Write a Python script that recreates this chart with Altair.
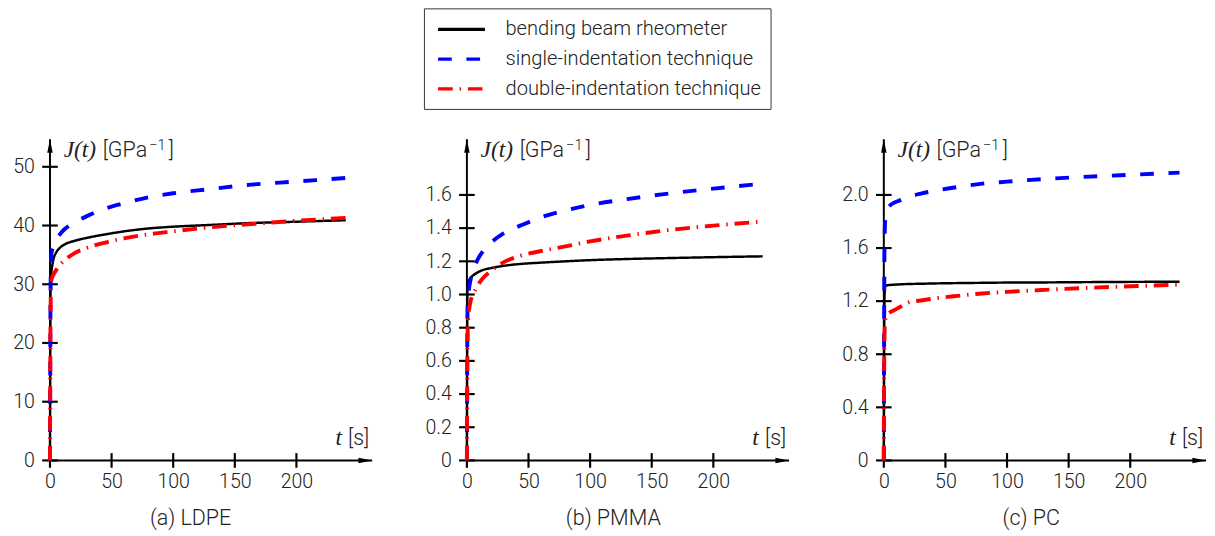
import altair as alt
import pandas as pd

# ---------------- data ----------------
T = [0, 0.5, 1, 2, 3, 5, 8, 12, 20, 30, 45, 60, 80, 100, 130, 160, 200, 240]
SERIES = ["bending beam rheometer", "single-indentation technique", "double-indentation technique"]
COLORS = ["#000000", "#0000ff", "#ff0000"]
DASHES = [[1, 0], [14, 15], [15, 7, 1.5, 7]]
WIDTHS = [2.5, 4, 4]

LDPE_BBR = [0, 30.0, 31.8, 33.4, 34.4, 35.4, 36.2, 36.8, 37.4, 37.9, 38.5, 39.0, 39.5, 39.8, 40.1, 40.4, 40.65, 40.9]
LDPE_SIT = [0, 30.0, 35.0, 36.0, 36.6, 37.6, 38.5, 39.4, 40.5, 41.6, 42.9, 43.8, 44.8, 45.5, 46.2, 46.9, 47.5, 48.1]
LDPE_DIT = [0, 26.0, 30.5, 31.3, 31.7, 32.4, 33.3, 34.1, 35.3, 36.2, 37.1, 37.8, 38.5, 39.0, 39.7, 40.2, 40.8, 41.3]

PMMA_BBR = [0, 1.05, 1.075, 1.09, 1.10, 1.115, 1.13, 1.145, 1.16, 1.173, 1.185, 1.192, 1.20, 1.207, 1.214, 1.219, 1.225, 1.23]
PMMA_SIT = [0, 0.90, 0.98, 1.05, 1.09, 1.14, 1.20, 1.25, 1.315, 1.37, 1.42, 1.465, 1.507, 1.54, 1.575, 1.605, 1.638, 1.668]
PMMA_DIT = [0, 0.72, 0.85, 0.92, 0.96, 1.00, 1.045, 1.09, 1.145, 1.195, 1.237, 1.262, 1.29, 1.32, 1.355, 1.385, 1.415, 1.44]

PC_BBR = [0, 1.20, 1.315, 1.318, 1.32, 1.322, 1.324, 1.326, 1.329, 1.331, 1.334, 1.336, 1.338, 1.34, 1.341, 1.343, 1.345, 1.346]
PC_SIT = [0, 1.55, 1.79, 1.86, 1.89, 1.92, 1.94, 1.955, 1.985, 2.01, 2.037, 2.06, 2.085, 2.10, 2.12, 2.135, 2.152, 2.168]
PC_DIT = [0, 0.93, 1.04, 1.09, 1.10, 1.115, 1.13, 1.15, 1.19, 1.205, 1.225, 1.24, 1.258, 1.27, 1.285, 1.298, 1.312, 1.325]

TITLES = ["(a) LDPE", "(b) PMMA", "(c) PC"]
YMAX = [54.7, 1.936, 2.42]
YTICKS = [[0, 10, 20, 30, 40, 50],
          [0, 0.2, 0.4, 0.6, 0.8, 1.0, 1.2, 1.4, 1.6],
          [0, 0.4, 0.8, 1.2, 1.6, 2.0]]
YFMT = ["d", ".1f", ".1f"]
XTICKS = [0, 50, 100, 150, 200]
XMAX = 261.5
TITLE_X = [144, 150, 151]
DATA = [[LDPE_BBR, LDPE_SIT, LDPE_DIT], [PMMA_BBR, PMMA_SIT, PMMA_DIT], [PC_BBR, PC_SIT, PC_DIT]]

# ---------------- layout / style ----------------
W, H = 330, 329
FONT = "Roboto"
SERIF = "Liberation Serif"
TXT = "#222222"
WEIGHT = 300

LEG = alt.Legend(orient="none", legendX=383, legendY=-134, title=None,
                 direction="vertical", symbolType="M-2.4,0H2.4", symbolSize=400,
                 symbolStrokeWidth=3.5, symbolOffset=17, labelFont=FONT, labelFontSize=20.6,
                 labelFontWeight=WEIGHT,
                 labelColor=TXT, labelOffset=33, rowPadding=7.5, padding=9.5,
                 strokeColor="#333333", fillColor="white", labelLimit=500)

color_scale = alt.Scale(domain=SERIES, range=COLORS)
dash_scale = alt.Scale(domain=SERIES, range=DASHES)
one = alt.Data(values=[{"k": 1}])


def txt(text, x, y, size, align="left", font=FONT, style="normal"):
    return alt.Chart(one).mark_text(text=text, font=font, fontStyle=style, fontSize=size,
                                    fontWeight=WEIGHT if font == FONT else 400,
                                    align=align, baseline="alphabetic", color=TXT).encode(
        x=alt.value(x), y=alt.value(y))


def panel(i):
    rows = []
    for s, vals in zip(SERIES, DATA[i]):
        for t, j in zip(T, vals):
            rows.append({"t": t, "J": j, "series": s})
    df = pd.DataFrame(rows)

    xs = alt.Scale(domain=[0, XMAX], nice=False, zero=False)
    ys = alt.Scale(domain=[0, YMAX[i]], nice=False, zero=False)
    xaxis = alt.Axis(values=XTICKS, domain=False, ticks=False, grid=False,
                     labelPadding=12, title=None, labelFlush=False)
    yaxis = alt.Axis(values=YTICKS[i], domain=False, ticks=False, grid=False,
                     labelPadding=16, title=None, labelFlush=False,
                     labelExpr="datum.value == 0 ? '0' : format(datum.value, '%s')" % YFMT[i])
    X = alt.X("t:Q", scale=xs, axis=xaxis)
    Y = alt.Y("J:Q", scale=ys, axis=yaxis)

    layers = []
    # axis lines
    layers.append(alt.Chart(one).mark_rule(color="black", strokeWidth=2).encode(
        x=alt.value(0), y=alt.value(0), y2=alt.value(H)))
    layers.append(alt.Chart(one).mark_rule(color="black", strokeWidth=2).encode(
        x=alt.value(0), x2=alt.value(W), y=alt.value(H)))
    # ticks crossing the axes
    layers.append(alt.Chart(pd.DataFrame({"t": XTICKS})).mark_rule(color="black", strokeWidth=2.2).encode(
        x=X, y=alt.value(H - 7.5), y2=alt.value(H + 7.5)))
    layers.append(alt.Chart(pd.DataFrame({"J": YTICKS[i]})).mark_rule(color="black", strokeWidth=2.2).encode(
        y=Y, x=alt.value(-8), x2=alt.value(8)))
    # curves
    base = alt.Chart(df)
    for s, w in zip(SERIES, WIDTHS):
        layers.append(base.transform_filter(alt.datum.series == s).mark_line(
            strokeWidth=w, interpolate="monotone", strokeCap="butt").encode(
            x=X, y=Y,
            color=alt.Color("series:N", scale=color_scale, legend=LEG),
            strokeDash=alt.StrokeDash("series:N", scale=dash_scale, legend=LEG)))
    # arrow heads
    layers.append(alt.Chart(one).mark_point(shape="M0,-1L-0.4,1L0.4,1Z", filled=True, size=196,
                                            color="black", opacity=1, strokeWidth=0).encode(
        x=alt.value(0), y=alt.value(7)))
    layers.append(alt.Chart(one).mark_point(shape="M1,0L-1,-0.4L-1,0.4Z", filled=True, size=196,
                                            color="black", opacity=1, strokeWidth=0).encode(
        x=alt.value(W - 7), y=alt.value(H)))
    # axis titles
    layers.append(txt("J(t)", 14, 18, 24, font=SERIF, style="italic"))
    layers.append(txt("[GPa", 54, 18, 22))
    layers.append(txt("−1", 110, 11, 15, align="center"))
    layers.append(txt("]", 127, 18, 22, align="right"))
    layers.append(txt("t", 299, 313, 24, align="right", font=SERIF, style="italic"))
    layers.append(txt("[s]", 327, 313, 22, align="right"))
    # panel caption
    layers.append(txt(TITLES[i], TITLE_X[i], 395, 22, align="center"))

    return alt.layer(*layers).properties(width=W, height=H)


chart = alt.HConcatChart(hconcat=[panel(0), panel(1), panel(2)], spacing=97, bounds="flush").properties(
    padding={"left": 4, "top": -7, "right": 0, "bottom": 0}
).configure_view(strokeWidth=0).configure_axis(
    labelFont=FONT, labelFontSize=20, labelColor=TXT, labelFontWeight=WEIGHT
)

chart.save("out.html", embed_options={"renderer": "svg", "actions": False})
